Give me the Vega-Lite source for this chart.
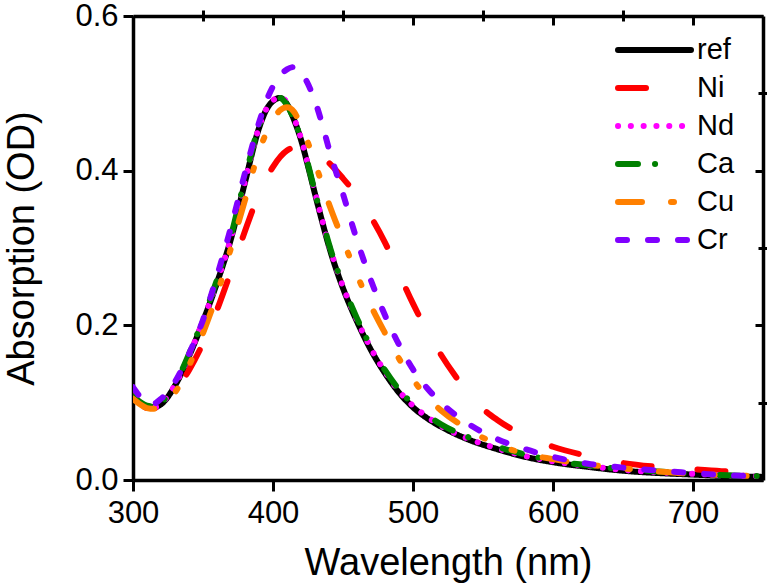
{
  "$schema": "https://vega.github.io/schema/vega-lite/v6.json",
  "width": 630,
  "height": 464,
  "autosize": "none",
  "padding": {"left": 133, "top": 16, "right": 4, "bottom": 105},
  "background": "white",
  "config": {
    "view": {"stroke": null},
    "font": "Liberation Sans",
    "axis": {
      "grid": false,
      "domainColor": "black",
      "domainWidth": 3.5,
      "tickColor": "black",
      "tickWidth": 3,
      "labelColor": "black",
      "labelFont": "Liberation Sans",
      "labelFontSize": 31,
      "titleFont": "Liberation Sans",
      "titleFontSize": 38,
      "titleFontWeight": "normal",
      "titleColor": "black"
    }
  },
  "datasets": {
    "spectra": [
      {"series":"ref","wl":300,"od":0.107},{"series":"ref","wl":305,"od":0.100},{"series":"ref","wl":310,"od":0.095},{"series":"ref","wl":315,"od":0.094},{"series":"ref","wl":320,"od":0.098},{"series":"ref","wl":330,"od":0.122},{"series":"ref","wl":340,"od":0.160},{"series":"ref","wl":350,"od":0.205},{"series":"ref","wl":360,"od":0.255},{"series":"ref","wl":370,"od":0.312},{"series":"ref","wl":380,"od":0.385},{"series":"ref","wl":390,"od":0.455},{"series":"ref","wl":395,"od":0.478},{"series":"ref","wl":400,"od":0.490},{"series":"ref","wl":405,"od":0.494},{"series":"ref","wl":410,"od":0.486},{"series":"ref","wl":415,"od":0.466},{"series":"ref","wl":420,"od":0.440},{"series":"ref","wl":425,"od":0.406},{"series":"ref","wl":430,"od":0.370},{"series":"ref","wl":435,"od":0.335},{"series":"ref","wl":440,"od":0.302},{"series":"ref","wl":450,"od":0.248},{"series":"ref","wl":460,"od":0.205},{"series":"ref","wl":470,"od":0.168},{"series":"ref","wl":480,"od":0.138},{"series":"ref","wl":490,"od":0.113},{"series":"ref","wl":500,"od":0.094},{"series":"ref","wl":510,"od":0.080},{"series":"ref","wl":520,"od":0.069},{"series":"ref","wl":540,"od":0.052},{"series":"ref","wl":560,"od":0.040},{"series":"ref","wl":580,"od":0.030},{"series":"ref","wl":600,"od":0.023},{"series":"ref","wl":625,"od":0.017},{"series":"ref","wl":650,"od":0.012},{"series":"ref","wl":675,"od":0.009},{"series":"ref","wl":700,"od":0.007},{"series":"ref","wl":725,"od":0.005},{"series":"ref","wl":750,"od":0.004},

      {"series":"Ni","wl":300,"od":0.110},{"series":"Ni","wl":305,"od":0.100},{"series":"Ni","wl":310,"od":0.093},{"series":"Ni","wl":315,"od":0.093},{"series":"Ni","wl":320,"od":0.098},{"series":"Ni","wl":330,"od":0.115},{"series":"Ni","wl":340,"od":0.142},{"series":"Ni","wl":350,"od":0.177},{"series":"Ni","wl":360,"od":0.220},{"series":"Ni","wl":370,"od":0.270},{"series":"Ni","wl":380,"od":0.322},{"series":"Ni","wl":390,"od":0.370},{"series":"Ni","wl":400,"od":0.405},{"series":"Ni","wl":410,"od":0.426},{"series":"Ni","wl":420,"od":0.432},{"series":"Ni","wl":430,"od":0.425},{"series":"Ni","wl":440,"od":0.410},{"series":"Ni","wl":450,"od":0.390},{"series":"Ni","wl":460,"od":0.368},{"series":"Ni","wl":470,"od":0.340},{"series":"Ni","wl":480,"od":0.307},{"series":"Ni","wl":490,"od":0.267},{"series":"Ni","wl":500,"od":0.228},{"series":"Ni","wl":510,"od":0.193},{"series":"Ni","wl":520,"od":0.162},{"series":"Ni","wl":530,"od":0.135},{"series":"Ni","wl":540,"od":0.111},{"series":"Ni","wl":550,"od":0.092},{"series":"Ni","wl":560,"od":0.078},{"series":"Ni","wl":580,"od":0.057},{"series":"Ni","wl":600,"od":0.043},{"series":"Ni","wl":625,"od":0.031},{"series":"Ni","wl":650,"od":0.022},{"series":"Ni","wl":675,"od":0.017},{"series":"Ni","wl":700,"od":0.014},{"series":"Ni","wl":725,"od":0.011},{"series":"Ni","wl":750,"od":0.010},

      {"series":"Nd","wl":300,"od":0.106},{"series":"Nd","wl":305,"od":0.099},{"series":"Nd","wl":310,"od":0.095},{"series":"Nd","wl":315,"od":0.094},{"series":"Nd","wl":320,"od":0.099},{"series":"Nd","wl":330,"od":0.123},{"series":"Nd","wl":340,"od":0.161},{"series":"Nd","wl":350,"od":0.206},{"series":"Nd","wl":360,"od":0.256},{"series":"Nd","wl":370,"od":0.313},{"series":"Nd","wl":380,"od":0.386},{"series":"Nd","wl":390,"od":0.456},{"series":"Nd","wl":395,"od":0.479},{"series":"Nd","wl":400,"od":0.491},{"series":"Nd","wl":405,"od":0.495},{"series":"Nd","wl":410,"od":0.488},{"series":"Nd","wl":415,"od":0.468},{"series":"Nd","wl":420,"od":0.442},{"series":"Nd","wl":425,"od":0.408},{"series":"Nd","wl":430,"od":0.372},{"series":"Nd","wl":435,"od":0.337},{"series":"Nd","wl":440,"od":0.304},{"series":"Nd","wl":450,"od":0.250},{"series":"Nd","wl":460,"od":0.207},{"series":"Nd","wl":470,"od":0.170},{"series":"Nd","wl":480,"od":0.140},{"series":"Nd","wl":490,"od":0.115},{"series":"Nd","wl":500,"od":0.096},{"series":"Nd","wl":510,"od":0.082},{"series":"Nd","wl":520,"od":0.070},{"series":"Nd","wl":540,"od":0.053},{"series":"Nd","wl":560,"od":0.041},{"series":"Nd","wl":580,"od":0.031},{"series":"Nd","wl":600,"od":0.024},{"series":"Nd","wl":625,"od":0.018},{"series":"Nd","wl":650,"od":0.013},{"series":"Nd","wl":675,"od":0.010},{"series":"Nd","wl":700,"od":0.008},{"series":"Nd","wl":725,"od":0.006},{"series":"Nd","wl":750,"od":0.005},

      {"series":"Ca","wl":300,"od":0.108},{"series":"Ca","wl":305,"od":0.101},{"series":"Ca","wl":310,"od":0.096},{"series":"Ca","wl":315,"od":0.095},{"series":"Ca","wl":320,"od":0.100},{"series":"Ca","wl":330,"od":0.124},{"series":"Ca","wl":340,"od":0.163},{"series":"Ca","wl":350,"od":0.208},{"series":"Ca","wl":360,"od":0.259},{"series":"Ca","wl":370,"od":0.316},{"series":"Ca","wl":380,"od":0.390},{"series":"Ca","wl":390,"od":0.458},{"series":"Ca","wl":395,"od":0.480},{"series":"Ca","wl":400,"od":0.492},{"series":"Ca","wl":405,"od":0.494},{"series":"Ca","wl":410,"od":0.485},{"series":"Ca","wl":415,"od":0.466},{"series":"Ca","wl":420,"od":0.441},{"series":"Ca","wl":425,"od":0.408},{"series":"Ca","wl":430,"od":0.372},{"series":"Ca","wl":435,"od":0.338},{"series":"Ca","wl":440,"od":0.305},{"series":"Ca","wl":450,"od":0.252},{"series":"Ca","wl":460,"od":0.209},{"series":"Ca","wl":470,"od":0.172},{"series":"Ca","wl":480,"od":0.142},{"series":"Ca","wl":490,"od":0.117},{"series":"Ca","wl":500,"od":0.098},{"series":"Ca","wl":510,"od":0.084},{"series":"Ca","wl":520,"od":0.072},{"series":"Ca","wl":540,"od":0.055},{"series":"Ca","wl":560,"od":0.043},{"series":"Ca","wl":580,"od":0.033},{"series":"Ca","wl":600,"od":0.025},{"series":"Ca","wl":625,"od":0.019},{"series":"Ca","wl":650,"od":0.014},{"series":"Ca","wl":675,"od":0.011},{"series":"Ca","wl":700,"od":0.008},{"series":"Ca","wl":725,"od":0.006},{"series":"Ca","wl":750,"od":0.005},

      {"series":"Cu","wl":300,"od":0.105},{"series":"Cu","wl":305,"od":0.098},{"series":"Cu","wl":310,"od":0.093},{"series":"Cu","wl":315,"od":0.092},{"series":"Cu","wl":320,"od":0.095},{"series":"Cu","wl":330,"od":0.113},{"series":"Cu","wl":340,"od":0.148},{"series":"Cu","wl":350,"od":0.190},{"series":"Cu","wl":360,"od":0.240},{"series":"Cu","wl":370,"od":0.300},{"series":"Cu","wl":380,"od":0.362},{"series":"Cu","wl":390,"od":0.425},{"series":"Cu","wl":395,"od":0.448},{"series":"Cu","wl":400,"od":0.466},{"series":"Cu","wl":405,"od":0.478},{"series":"Cu","wl":410,"od":0.482},{"series":"Cu","wl":415,"od":0.476},{"series":"Cu","wl":420,"od":0.458},{"series":"Cu","wl":425,"od":0.436},{"series":"Cu","wl":430,"od":0.410},{"series":"Cu","wl":440,"od":0.357},{"series":"Cu","wl":450,"od":0.310},{"series":"Cu","wl":460,"od":0.265},{"series":"Cu","wl":470,"od":0.225},{"series":"Cu","wl":480,"od":0.190},{"series":"Cu","wl":490,"od":0.157},{"series":"Cu","wl":500,"od":0.130},{"series":"Cu","wl":510,"od":0.107},{"series":"Cu","wl":520,"od":0.090},{"series":"Cu","wl":540,"od":0.065},{"series":"Cu","wl":560,"od":0.046},{"series":"Cu","wl":580,"od":0.034},{"series":"Cu","wl":600,"od":0.027},{"series":"Cu","wl":625,"od":0.020},{"series":"Cu","wl":650,"od":0.015},{"series":"Cu","wl":675,"od":0.011},{"series":"Cu","wl":700,"od":0.008},{"series":"Cu","wl":725,"od":0.006},{"series":"Cu","wl":750,"od":0.005},

      {"series":"Cr","wl":300,"od":0.120},{"series":"Cr","wl":305,"od":0.108},{"series":"Cr","wl":310,"od":0.100},{"series":"Cr","wl":315,"od":0.099},{"series":"Cr","wl":320,"od":0.105},{"series":"Cr","wl":330,"od":0.127},{"series":"Cr","wl":340,"od":0.163},{"series":"Cr","wl":350,"od":0.207},{"series":"Cr","wl":360,"od":0.264},{"series":"Cr","wl":370,"od":0.327},{"series":"Cr","wl":380,"od":0.397},{"series":"Cr","wl":390,"od":0.462},{"series":"Cr","wl":395,"od":0.489},{"series":"Cr","wl":400,"od":0.509},{"series":"Cr","wl":405,"od":0.523},{"series":"Cr","wl":410,"od":0.531},{"series":"Cr","wl":415,"od":0.534},{"series":"Cr","wl":420,"od":0.528},{"series":"Cr","wl":425,"od":0.512},{"series":"Cr","wl":430,"od":0.490},{"series":"Cr","wl":435,"od":0.461},{"series":"Cr","wl":440,"od":0.428},{"series":"Cr","wl":450,"od":0.370},{"series":"Cr","wl":460,"od":0.310},{"series":"Cr","wl":470,"od":0.258},{"series":"Cr","wl":480,"od":0.213},{"series":"Cr","wl":490,"od":0.175},{"series":"Cr","wl":500,"od":0.143},{"series":"Cr","wl":510,"od":0.119},{"series":"Cr","wl":520,"od":0.100},{"series":"Cr","wl":540,"od":0.072},{"series":"Cr","wl":560,"od":0.053},{"series":"Cr","wl":580,"od":0.040},{"series":"Cr","wl":600,"od":0.030},{"series":"Cr","wl":625,"od":0.021},{"series":"Cr","wl":650,"od":0.016},{"series":"Cr","wl":675,"od":0.012},{"series":"Cr","wl":700,"od":0.009},{"series":"Cr","wl":725,"od":0.006},{"series":"Cr","wl":750,"od":0.005}
    ]
  },
  "data": {"name": "spectra"},
  "layer": [
    {
      "mark": {"type": "line", "strokeWidth": 6, "strokeCap": "round", "strokeJoin": "round", "interpolate": "monotone", "clip": true},
      "encoding": {
        "x": {"field": "wl", "type": "quantitative",
              "scale": {"domain": [300, 750], "nice": false, "zero": false},
              "axis": {"values": [300, 400, 500, 600, 700], "title": "Wavelength (nm)", "tickSize": 11, "labelPadding": 7, "titlePadding": 16, "labelFlush": false}},
        "y": {"field": "od", "type": "quantitative",
              "scale": {"domain": [0, 0.6], "nice": false, "zero": false},
              "axis": {"values": [0, 0.2, 0.4, 0.6], "format": ".1f", "title": "Absorption (OD)", "tickSize": 10, "labelPadding": 5, "titlePadding": 33, "labelFlush": false}},
        "color": {"field": "series", "type": "nominal",
                  "scale": {"domain": ["ref", "Ni", "Nd", "Ca", "Cu", "Cr"], "range": ["#000000", "#ff0000", "#ff00ff", "#008000", "#ff8000", "#8000ff"]},
                  "legend": {"title": null, "orient": "none", "legendX": 482, "legendY": 19, "symbolType": "stroke", "symbolSize": 5329, "symbolStrokeWidth": 6, "labelFontSize": 29, "labelFont": "Liberation Sans", "labelColor": "black", "labelOffset": 3, "clipHeight": 30, "rowPadding": 8, "padding": 0, "symbolLimit": 0, "encode": {"symbols": {"update": {"strokeCap": {"value": "round"}}}}}},
        "strokeDash": {"field": "series", "type": "nominal",
                  "scale": {"domain": ["ref", "Ni", "Nd", "Ca", "Cu", "Cr"], "range": [[1, 0], [28, 46], [0.1, 12.7], [20, 17, 0.1, 36], [24, 29, 3, 29, 3, 29], [9, 21]]},
                  "legend": {"title": null, "orient": "none", "legendX": 482, "legendY": 19, "symbolType": "stroke", "symbolSize": 5329, "symbolStrokeWidth": 6, "labelFontSize": 29, "labelFont": "Liberation Sans", "labelColor": "black", "labelOffset": 3, "clipHeight": 30, "rowPadding": 8, "padding": 0, "symbolLimit": 0, "encode": {"symbols": {"update": {"strokeCap": {"value": "round"}}}}}}
      }
    },
    {
      "mark": {"type": "point", "opacity": 0, "size": 0},
      "encoding": {
        "x": {"field": "wl", "type": "quantitative", "scale": {"domain": [300, 750], "nice": false, "zero": false},
              "axis": {"values": [350, 450, 550, 650], "labels": false, "domain": false, "title": null, "tickSize": 6}},
        "y": {"field": "od", "type": "quantitative", "scale": {"domain": [0, 0.6], "nice": false, "zero": false},
              "axis": {"values": [0.1, 0.3, 0.5], "labels": false, "domain": false, "title": null, "tickSize": 6}}
      }
    },
    {
      "mark": {"type": "point", "opacity": 0, "size": 0},
      "encoding": {
        "x": {"field": "wl", "type": "quantitative", "scale": {"domain": [300, 750], "nice": false, "zero": false},
              "axis": {"orient": "top", "values": [300, 400, 500, 600, 700], "labels": false, "domain": true, "title": null, "tickSize": -9}},
        "y": {"field": "od", "type": "quantitative", "scale": {"domain": [0, 0.6], "nice": false, "zero": false},
              "axis": {"orient": "right", "values": [0, 0.2, 0.4, 0.6], "labels": false, "domain": true, "title": null, "tickSize": -8}}
      }
    },
    {
      "mark": {"type": "point", "opacity": 0, "size": 0},
      "encoding": {
        "x": {"field": "wl", "type": "quantitative", "scale": {"domain": [300, 750], "nice": false, "zero": false},
              "axis": {"orient": "top", "values": [350, 450, 550, 650], "labels": false, "domain": false, "title": null, "tickSize": -5}},
        "y": {"field": "od", "type": "quantitative", "scale": {"domain": [0, 0.6], "nice": false, "zero": false},
              "axis": {"orient": "right", "values": [0.1, 0.3, 0.5], "labels": false, "domain": false, "title": null, "tickSize": -5}}
      }
    }
  ],
  "resolve": {"axis": {"x": "independent", "y": "independent"}}
}
